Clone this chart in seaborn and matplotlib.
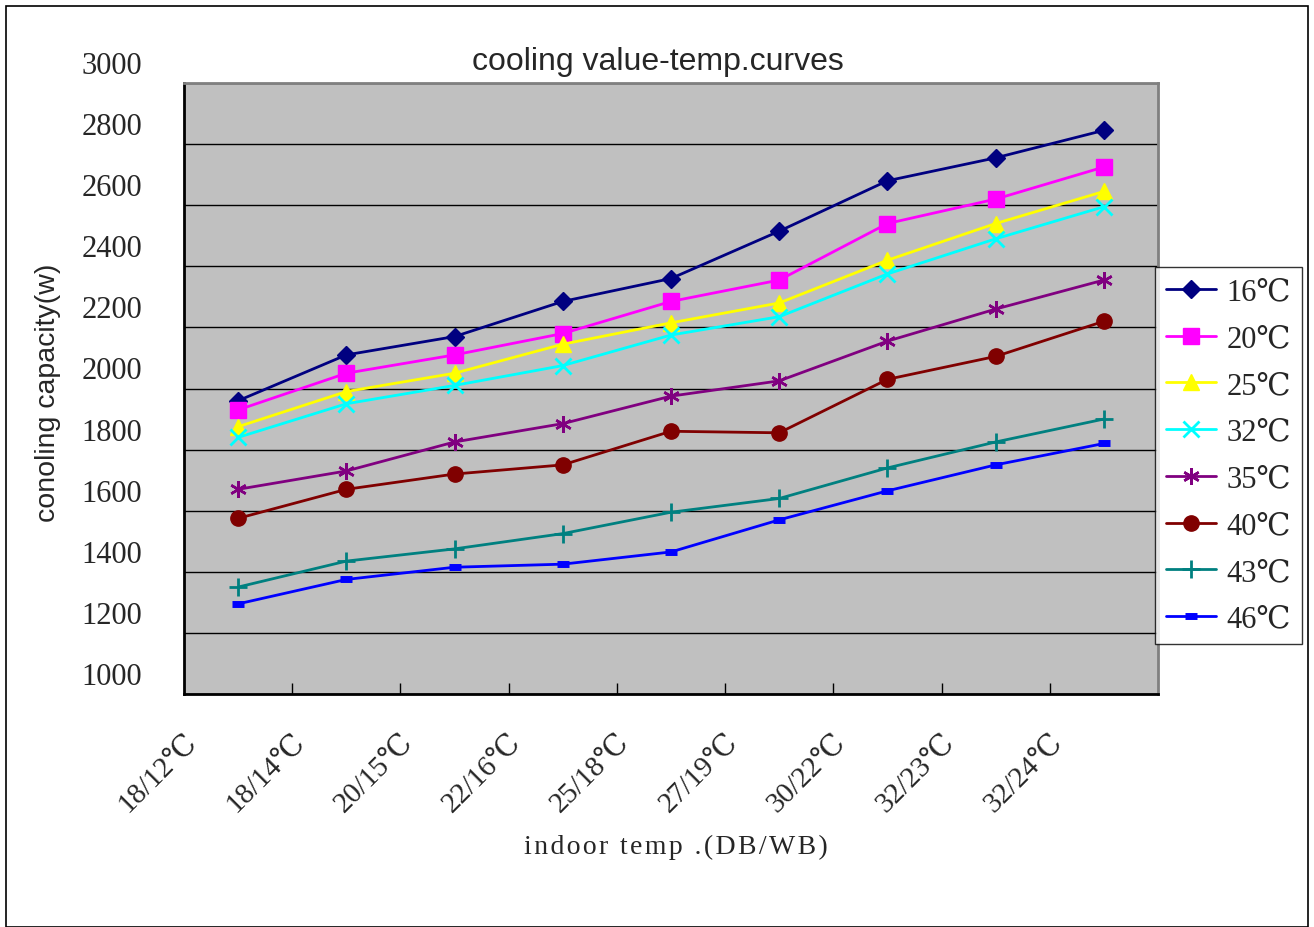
import matplotlib
matplotlib.use("Agg")
import matplotlib.pyplot as plt
import matplotlib.transforms as mtransforms
from matplotlib.patches import Rectangle
import numpy as np
import pandas as pd
import seaborn as sns

# categories (DB/WB indoor temps)
categories = ["18/12℃", "18/14℃", "20/15℃", "22/16℃", "25/18℃",
              "27/19℃", "30/22℃", "32/23℃", "32/24℃"]

# outdoor temperature series
series_names = ["16℃", "20℃", "25℃", "32℃", "35℃", "40℃", "43℃", "46℃"]

cap_16 = [1960, 2110, 2170, 2285, 2360, 2515, 2680, 2755, 2845]
cap_20 = [1930, 2050, 2110, 2180, 2285, 2355, 2540, 2620, 2725]
cap_25 = [1875, 1990, 2050, 2145, 2215, 2280, 2420, 2540, 2645]
cap_32 = [1840, 1950, 2010, 2075, 2175, 2235, 2375, 2490, 2595]
cap_35 = [1670, 1730, 1825, 1885, 1975, 2025, 2155, 2260, 2355]
cap_40 = [1575, 1670, 1720, 1750, 1860, 1855, 2030, 2105, 2220]
cap_43 = [1350, 1435, 1475, 1525, 1595, 1640, 1740, 1825, 1900]
cap_46 = [1295, 1375, 1415, 1425, 1465, 1570, 1665, 1750, 1820]

all_caps = [cap_16, cap_20, cap_25, cap_32, cap_35, cap_40, cap_43, cap_46]

colors = ["#000080", "#FF00FF", "#FFFF00", "#00FFFF",
          "#800080", "#800000", "#008080", "#0000FF"]
markers = ["D", "s", "^", "x", (6, 2, 0), "o", "+", "_"]
msizes = [9, 11, 11, 11, 12, 11, 13, 8]
mews = [1, 1, 1, 2, 1.8, 1, 2, 5]

sns.set_theme(style="white")
serif = ["Liberation Serif", "DejaVu Serif"]
plt.rcParams["font.family"] = serif

fig = plt.figure(figsize=(13.14, 9.28), dpi=100)
ax = fig.add_axes([184 / 1314, 1 - 695 / 928, (1158 - 184) / 1314, (695 - 84) / 928])
ax.set_facecolor("#C0C0C0")

x = np.arange(len(categories))
for name, vals, c, m, ms, mew in zip(series_names, all_caps, colors, markers, msizes, mews):
    sns.lineplot(x=x, y=vals, ax=ax, color=c, marker=m, markersize=ms,
                 markeredgewidth=mew, markeredgecolor=c, linewidth=2,
                 label=name, legend=False)

ax.set_xlim(-0.5, len(categories) - 0.5)
ax.set_ylim(1000, 3000)
ax.set_yticks(np.arange(1000, 3001, 200))
ax.yaxis.grid(True, color="black", linewidth=1)
ax.xaxis.grid(False)

# x ticks at category boundaries, labels at category centres
ax.set_xticks(np.arange(0.5, len(categories) - 1, 1))
ax.set_xticklabels([])
ax.tick_params(axis="x", direction="in", length=8, width=1, color="black", bottom=True)
ax.tick_params(axis="y", length=0, pad=30, labelsize=22)
for lbl in ax.get_yticklabels():
    lbl.set_transform(lbl.get_transform() + mtransforms.ScaledTranslation(0, 0.21, fig.dpi_scale_trans))

for i, cat in enumerate(categories):
    ax.text(i, 0, cat, transform=ax.get_xaxis_transform() +
            mtransforms.ScaledTranslation(-0.45, -0.44, fig.dpi_scale_trans),
            rotation=45, rotation_mode="anchor", ha="right", va="center",
            fontsize=21, family=serif)

for side in ["top", "right"]:
    ax.spines[side].set_color("#808080")
    ax.spines[side].set_linewidth(2)
for side in ["left", "bottom"]:
    ax.spines[side].set_color("black")
    ax.spines[side].set_linewidth(2)

fig.text(658 / 1314, 1 - 62 / 928, "cooling value-temp.curves", ha="center", va="center",
         fontsize=23, family=["Liberation Sans", "DejaVu Sans"])
fig.text(48 / 1314, 1 - 393 / 928, "conoling capacity(w)", ha="center", va="center",
         rotation=90, fontsize=20.5, family=["Liberation Sans", "DejaVu Sans"])
fig.text(676 / 1314, 1 - 847 / 928, "\u200a".join("indoor temp .(DB/WB)"), ha="center",
         va="center", fontsize=20, family=serif)

leg = fig.legend(loc="upper left", bbox_to_anchor=(1155 / 1314, 1 - 268 / 928),
                 frameon=True, fancybox=False, edgecolor="black", facecolor="white",
                 prop={"family": serif, "size": 22}, handlelength=1.65,
                 handletextpad=0.35, labelspacing=0.58, borderpad=0.35, borderaxespad=0)
leg.get_frame().set_linewidth(1)

fig.patches.append(Rectangle((6 / 1314, 0), (1308 - 6) / 1314, 1 - 7 / 928,
                             transform=fig.transFigure, fill=False,
                             edgecolor="black", linewidth=1.2))

fig.savefig("out.png", dpi=100)
